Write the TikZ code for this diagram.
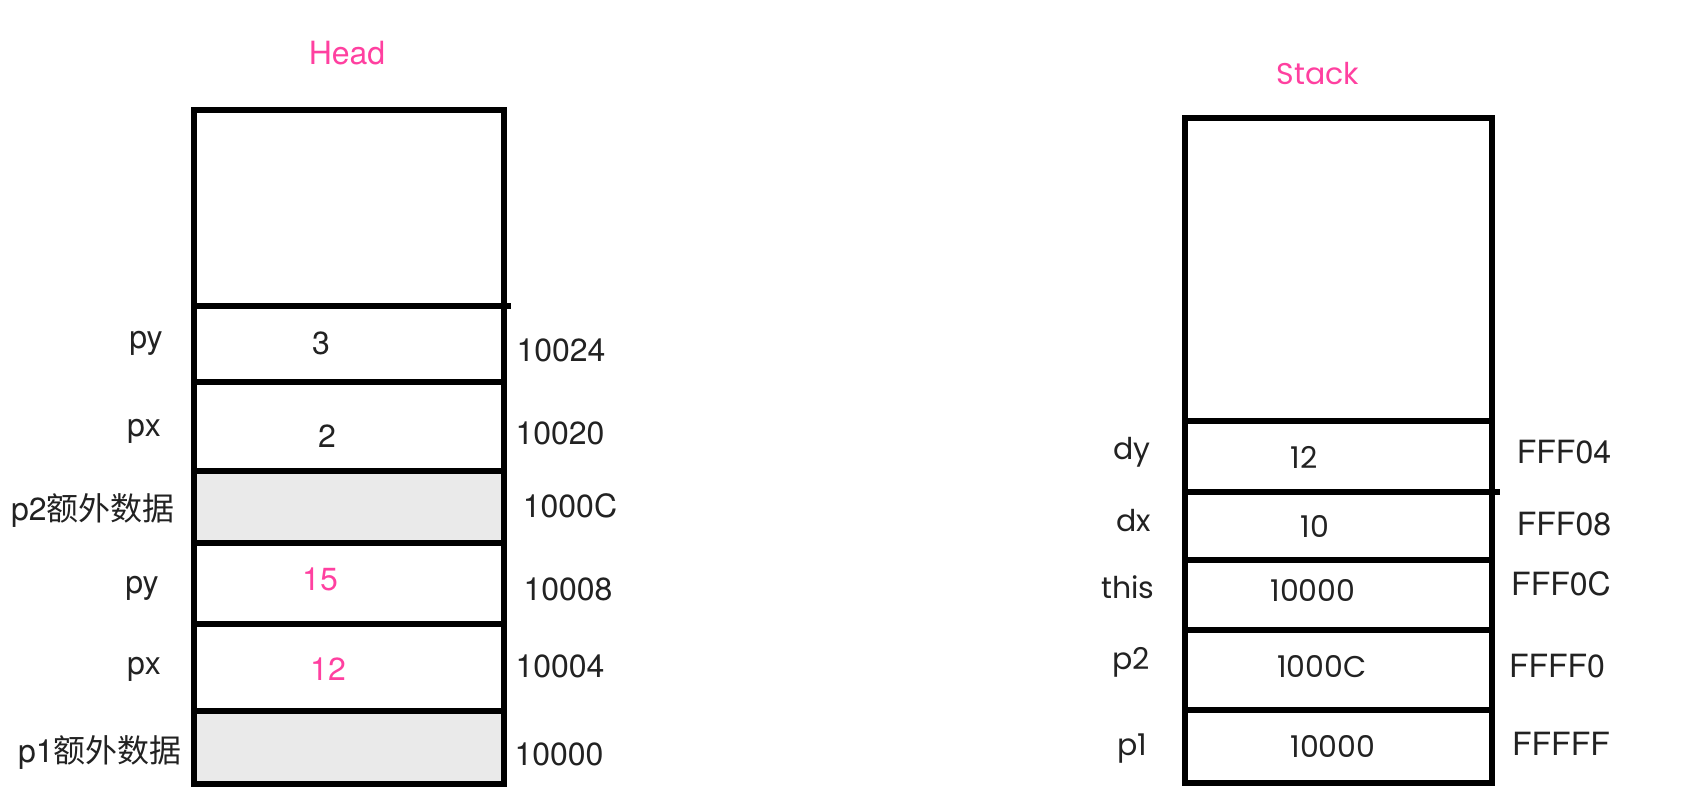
\documentclass[tikz,border=0pt]{standalone}
\usepackage{fontspec}
\setmainfont{TeX Gyre Heros}
\newfontfamily\cjk{Noto Sans CJK SC}
\newfontfamily\roundfont{Poppins}
\definecolor{titlepink}{RGB}{255,64,160}
\definecolor{slotgray}{RGB}{234,234,234}
\definecolor{inkgray}{RGB}{34,34,34}
\tikzset{
    wall/.style={line width=3.4pt, draw=black},
    heaptxt/.style={anchor=base, inner sep=0pt, text=inkgray, font=\fontsize{16}{19}\selectfont},
    stacktxt/.style={anchor=base, inner sep=0pt, text=inkgray, font=\roundfont\fontsize{15}{18}\selectfont},
    titletxt/.style={anchor=base, inner sep=0pt, text=titlepink},
}
\begin{document}
\begin{tikzpicture}[x=0.5pt, y=-0.5pt]
    \useasboundingbox (0,0) rectangle (1704,812);

    % Heap column (left)
    \begin{scope}
        % Title
        \node[titletxt, font=\fontsize{16}{19}\selectfont] (headTitle) at (347, 65) {Head};

        % Extra data slots
        \fill[slotgray] (194, 471) rectangle (504, 543);
        \fill[slotgray] (194, 711) rectangle (504, 784);

        % Outer box and slot lines
        \draw[wall] (194, 110) rectangle (504, 784);
        \draw[wall] (194, 306) -- (511, 306);
        \draw[wall] (194, 382) -- (504, 382);
        \draw[wall] (194, 471) -- (504, 471);
        \draw[wall] (194, 543) -- (504, 543);
        \draw[wall] (194, 624) -- (504, 624);
        \draw[wall] (194, 711) -- (504, 711);

        % Field names
        \node[heaptxt] (hName1) at (146, 349) {py};
        \node[heaptxt] (hName2) at (144, 437) {px};
        \node[heaptxt] (hName3) at (93, 521) {p2{\cjk 额外数据}};
        \node[heaptxt] (hName4) at (142, 594) {py};
        \node[heaptxt] (hName5) at (144, 675) {px};
        \node[heaptxt] (hName6) at (100, 762) {p1{\cjk 额外数据}};

        % Values
        \node[heaptxt] (hVal1) at (321, 355) {3};
        \node[heaptxt] (hVal2) at (327, 448) {2};
        \node[heaptxt, text=titlepink] (hVal4) at (320, 591) {15};
        \node[heaptxt, text=titlepink] (hVal5) at (328, 680) {12};

        % Addresses
        \node[heaptxt] (hAddr1) at (561, 362) {10024};
        \node[heaptxt] (hAddr2) at (560, 445) {10020};
        \node[heaptxt] (hAddr3) at (570, 518) {1000C};
        \node[heaptxt] (hAddr4) at (568, 601) {10008};
        \node[heaptxt] (hAddr5) at (560, 677) {10004};
        \node[heaptxt] (hAddr6) at (559, 765) {10000};
    \end{scope}

    % Stack column (right)
    \begin{scope}
        % Title
        \node[titletxt, font=\roundfont\fontsize{15}{18}\selectfont] (stackTitle) at (1318, 85) {Stack};

        % Outer box and slot lines
        \draw[wall] (1185, 118) rectangle (1492, 783);
        \draw[wall] (1185, 421) -- (1492, 421);
        \draw[wall] (1185, 492) -- (1500, 492);
        \draw[wall] (1185, 560) -- (1492, 560);
        \draw[wall] (1185, 630) -- (1492, 630);
        \draw[wall] (1185, 710) -- (1492, 710);

        % Variable names
        \node[stacktxt] (sName1) at (1132, 460) {dy};
        \node[stacktxt] (sName2) at (1134, 532) {dx};
        \node[stacktxt] (sName3) at (1128, 599) {this};
        \node[stacktxt] (sName4) at (1131, 669) {p2};
        \node[stacktxt] (sName5) at (1132, 755) {p1};

        % Values
        \node[stacktxt] (sVal1) at (1304, 469) {12};
        \node[stacktxt] (sVal2) at (1315, 538) {10};
        \node[stacktxt] (sVal3) at (1313, 602) {10000};
        \node[stacktxt] (sVal4) at (1322, 677) {1000C};
        \node[stacktxt] (sVal5) at (1333, 757) {10000};

        % Addresses
        \node[heaptxt] (sAddr1) at (1564, 464) {FFF04};
        \node[heaptxt] (sAddr2) at (1564, 536) {FFF08};
        \node[heaptxt] (sAddr3) at (1561, 596) {FFF0C};
        \node[heaptxt] (sAddr4) at (1557, 677) {FFFF0};
        \node[heaptxt] (sAddr5) at (1561, 755) {FFFFF};
    \end{scope}

\end{tikzpicture}
\end{document}
